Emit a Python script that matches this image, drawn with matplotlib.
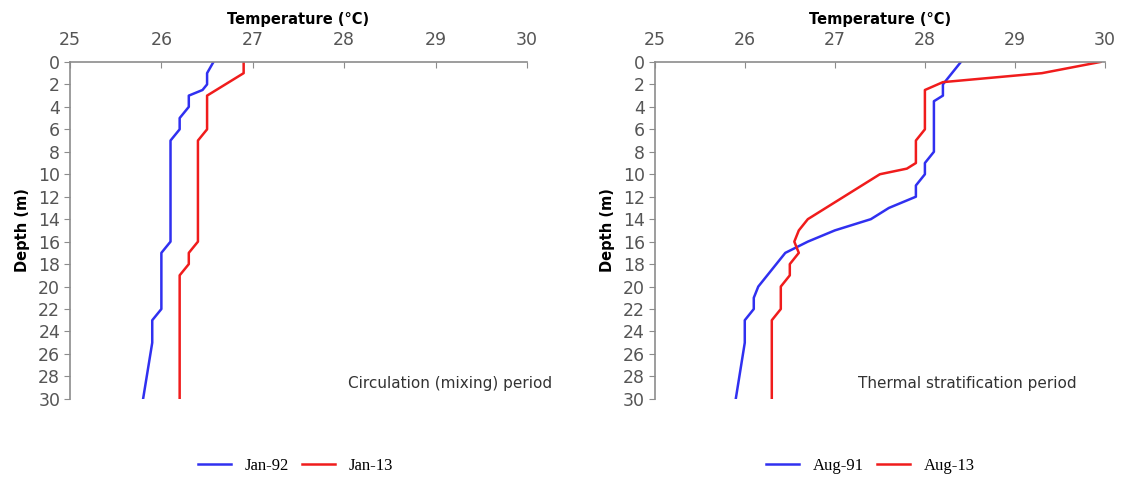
import numpy as np
import matplotlib
matplotlib.use('Agg')
import matplotlib.pyplot as plt

plt.rcParams['font.family'] = ['DejaVu Sans']

# ---- data ----
depth_jan92 = [0, 1, 2, 2.5, 3, 4, 5, 6, 7, 8, 16, 17, 18, 22, 23, 25, 30]
temp_jan92 = [26.57, 26.5, 26.5, 26.45, 26.3, 26.3, 26.2, 26.2, 26.1, 26.1,
              26.1, 26.0, 26.0, 26.0, 25.9, 25.9, 25.8]

depth_jan13 = [0, 1, 2, 3, 4, 6, 7, 8, 16, 17, 18, 19, 20, 30]
temp_jan13 = [26.9, 26.9, 26.7, 26.5, 26.5, 26.5, 26.4, 26.4,
              26.4, 26.3, 26.3, 26.2, 26.2, 26.2]

depth_aug91 = [0, 1, 2, 3, 3.5, 4, 8, 9, 10, 11, 12, 13, 14, 15, 16, 17,
               18, 19, 20, 21, 22, 23, 25, 30]
temp_aug91 = [28.4, 28.3, 28.2, 28.2, 28.1, 28.1, 28.1, 28.0, 28.0, 27.9,
              27.9, 27.6, 27.4, 27.0, 26.7, 26.45, 26.35, 26.25, 26.15,
              26.1, 26.1, 26.0, 26.0, 25.9]

depth_aug13 = [0, 1, 1.8, 2.5, 3, 6, 7, 9, 9.5, 10, 11, 12, 13, 14, 15, 16,
               17, 18, 19, 20, 21, 22, 23, 30]
temp_aug13 = [29.95, 29.3, 28.2, 28.0, 28.0, 28.0, 27.9, 27.9, 27.8, 27.5,
              27.3, 27.1, 26.9, 26.7, 26.6, 26.55, 26.6, 26.5, 26.5, 26.4,
              26.4, 26.4, 26.3, 26.3]

x_ticks = [25, 26, 27, 28, 29, 30]
y_ticks = list(range(0, 31, 2))

BLUE = '#3030f0'
RED = '#f01c1c'
GRAY = '#8c8c8c'


def style_axis(ax):
    ax.set_xlim(25, 30)
    ax.set_ylim(30, 0)
    ax.xaxis.tick_top()
    ax.xaxis.set_label_position('top')
    ax.set_xticks(x_ticks)
    ax.set_yticks(y_ticks)
    ax.spines['right'].set_visible(False)
    ax.spines['bottom'].set_visible(False)
    for s in ['top', 'left']:
        ax.spines[s].set_color(GRAY)
        ax.spines[s].set_linewidth(1.2)
    ax.tick_params(axis='x', direction='in', length=4, color=GRAY,
                   labelsize=12.5, labelcolor='#555555', pad=9)
    ax.tick_params(axis='y', direction='out', length=4, color=GRAY,
                   labelsize=12.5, labelcolor='#555555', pad=3)
    ax.set_xlabel('Temperature (°C)', fontsize=10.5, fontweight='bold',
                  labelpad=5)
    ax.set_ylabel('Depth (m)', fontsize=10.5, fontweight='bold', labelpad=6)


fig = plt.figure(figsize=(11.23, 4.8), dpi=100)
ax1 = fig.add_axes([0.0623, 0.169, 0.407, 0.702])
ax2 = fig.add_axes([0.583, 0.169, 0.401, 0.702])

l1, = ax1.plot(temp_jan92, depth_jan92, color=BLUE, lw=1.8, label='Jan-92')
l2, = ax1.plot(temp_jan13, depth_jan13, color=RED, lw=1.8, label='Jan-13')
l3, = ax2.plot(temp_aug91, depth_aug91, color=BLUE, lw=1.8, label='Aug-91')
l4, = ax2.plot(temp_aug13, depth_aug13, color=RED, lw=1.8, label='Aug-13')

for ax in (ax1, ax2):
    style_axis(ax)

ax1.text(0.492, 0.202, 'Circulation (mixing) period', transform=fig.transFigure,
         ha='right', va='center', fontsize=11, color='#333333')
ax2.text(0.959, 0.202, 'Thermal stratification period', transform=fig.transFigure,
         ha='right', va='center', fontsize=11, color='#333333')

leg_font = {'family': 'Liberation Serif', 'size': 12}
fig.legend(handles=[l1, l2], loc='center', bbox_to_anchor=(0.263, 0.03),
           ncol=2, frameon=False, prop=leg_font, handlelength=2.0,
           columnspacing=0.8, handletextpad=0.8)
fig.legend(handles=[l3, l4], loc='center', bbox_to_anchor=(0.775, 0.03),
           ncol=2, frameon=False, prop=leg_font, handlelength=2.0,
           columnspacing=0.8, handletextpad=0.8)

fig.savefig('out.png', dpi=100)
